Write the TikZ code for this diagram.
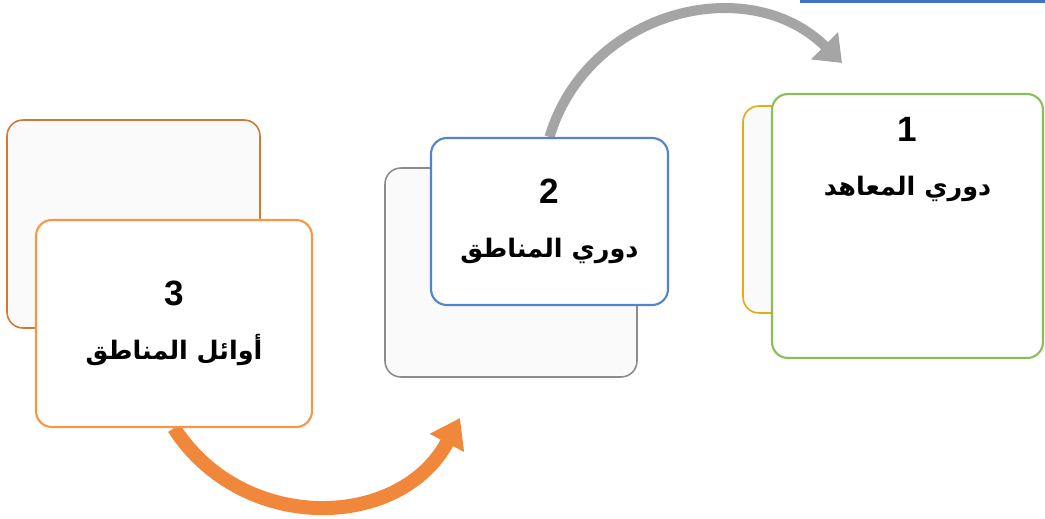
\documentclass[tikz,border=0pt]{standalone}
\usepackage{fontspec}
\setmainfont{Liberation Sans}
\newfontfamily\arabicfont[Script=Arabic]{DejaVu Sans}
\TeXXeTstate=1
\usetikzlibrary{positioning, arrows.meta, backgrounds}

\definecolor{orangeback}{HTML}{D4782F}
\definecolor{orangefront}{HTML}{F79646}
\definecolor{grayback}{HTML}{8C8C8C}
\definecolor{bluefront}{HTML}{5283CF}
\definecolor{goldback}{HTML}{E8A913}
\definecolor{greenfront}{HTML}{88C057}
\definecolor{arrowgray}{HTML}{A5A5A5}
\definecolor{arroworange}{HTML}{F0873A}
\definecolor{bluebar}{HTML}{4472C4}

\newcommand{\stepnum}[1]{{\rmfamily\fontsize{20}{22}\selectfont #1}}

\begin{document}
\begin{tikzpicture}[x=0.02cm, y=-0.02cm,
	backbox/.style={draw, rounded corners=9pt, fill=black!2, line width=0.9pt},
	frontbox/.style={draw, rounded corners=9pt, fill=white, line width=1.2pt},
	boxtext/.style={align=center, font=\arabicfont\fontsize{14.5}{20}\selectfont\bfseries},
	bigarrow/.style={line cap=butt}]
	\useasboundingbox (0,0) rectangle (1045,518);
	\fill[bluebar] (800,0) rectangle (1045,3);

	% step 3
	\node[backbox, draw=orangeback, minimum width=5.06cm, minimum height=4.16cm]	(b3) at (133.5,224) {};
	\node[frontbox, draw=orangefront, boxtext, minimum width=5.52cm, minimum height=4.14cm]	(f3) at (174,323.5)
		{\stepnum{3}\\[11pt]\beginR أوائل المناطق\endR};

	% step 2
	\node[backbox, draw=grayback, minimum width=5.04cm, minimum height=4.18cm]	(b2) at (511,272.5) {};
	\node[frontbox, draw=bluefront, boxtext, minimum width=4.74cm, minimum height=3.34cm]	(f2) at (549.5,221.5)
		{\stepnum{2}\\[11pt]\beginR دوري المناطق\endR};

	% step 1
	\node[backbox, draw=goldback, minimum width=5cm, minimum height=4.14cm]	(b1) at (868,209.5) {};
	\node[frontbox, draw=greenfront, minimum width=5.42cm, minimum height=5.28cm]	(f1) at (907.5,226) {};
	\node[boxtext, below=0.36cm of f1.north]	(t1)
		{\stepnum{1}\\[11pt]\beginR دوري المعاهد\endR};

	\coordinate (tip2) at (460,418);
	\coordinate (tip1) at (842,63);

	\begin{pgfonlayer}{background}
	\draw[bigarrow, line width=8pt, draw=arroworange, -{Triangle[width=21pt, length=16pt]}]
		(f3.south) .. controls (243,535) and (401,530) .. (tip2);
	\draw[bigarrow, line width=5.7pt, draw=arrowgray, -{Triangle[width=21pt, length=14pt]}]
		(f2.north) .. controls (587,11) and (748,-30) .. (tip1);
	\end{pgfonlayer}
\end{tikzpicture}
\end{document}
